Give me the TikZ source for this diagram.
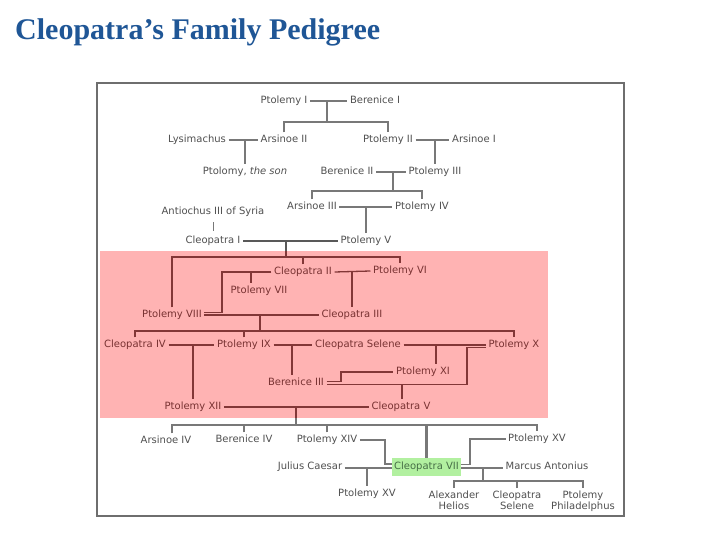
\documentclass[tikz,border=0pt]{standalone}
\usepackage{fontspec}
\setmainfont{Liberation Serif}
\newfontfamily\dv{DejaVu Sans}
\definecolor{titleblue}{RGB}{31,86,150}
\definecolor{framegray}{RGB}{110,110,110}
\definecolor{pinkfill}{RGB}{255,179,179}
\definecolor{txtgray}{RGB}{80,80,80}
\definecolor{lngray}{RGB}{120,120,120}
\definecolor{txtred}{RGB}{120,50,50}
\definecolor{lnred}{RGB}{130,55,55}
\definecolor{greenfill}{RGB}{178,240,160}
\definecolor{txtgreen}{RGB}{70,110,70}
\begin{document}
\begin{tikzpicture}[x=1pt,y=-1pt,
  nd0/.style={font=\dv\fontsize{10}{11}\selectfont, text=txtgray, inner sep=2.5pt, align=center},
  nd/.style={nd0, text height=7.5pt, text depth=2.3pt},
  pk/.style={nd, text=txtred},
  ln/.style={draw=lngray, line width=1.3pt},
  lr/.style={draw=lnred, line width=1.3pt}]
\useasboundingbox (0,0) rectangle (720,540);
\fill[white] (0,0) rectangle (720,540);
\node[anchor=base west, inner sep=0, text=titleblue, font=\fontsize{30}{35}\selectfont\bfseries] (title) at (15,39.5) {Cleopatra’s Family Pedigree};
\fill[pinkfill] (100,251) rectangle (548,418);
\draw[framegray, line width=1.6pt] (97,83) rectangle (624,516);

% ---------- top generations ----------
\node[nd] (p1) at (284,101) {Ptolemy I};
\node[nd] (b1) at (375,101) {Berenice I};
\node[nd] (lys) at (197,140) {Lysimachus};
\node[nd] (a2) at (284,140) {Arsinoe II};
\node[nd] (p2) at (388,140) {Ptolemy II};
\node[nd] (a1) at (474,140) {Arsinoe I};
\node[nd] (pson) at (245,172) {Ptolomy, \textit{the son}};
\node[nd] (b2) at (347,172) {Berenice II};
\node[nd] (p3) at (435,172) {Ptolemy III};
\node[nd] (a3) at (312,207) {Arsinoe III};
\node[nd] (p4) at (422,207) {Ptolemy IV};
\node[nd] (ant) at (213,212) {Antiochus III of Syria};
\node[nd] (c1) at (213,241) {Cleopatra I};
\node[nd] (p5) at (366,241) {Ptolemy V};

\coordinate (m1) at (327,101); \coordinate (s1) at (327,122);
\draw[ln] (p1.east) -- (b1.west);
\draw[ln] (m1) -- (s1);
\draw[ln] (a2.north) |- (s1) -| (p2.north);
\draw[ln] (lys.east) -- (a2.west);
\coordinate (m2) at (245,140);
\draw[ln] (m2) -- (pson.north);
\draw[ln] (p2.east) -- (a1.west);
\coordinate (m3) at (435,140);
\draw[ln] (m3) -- (p3.north);
\draw[ln] (b2.east) -- (p3.west);
\coordinate (m4) at (393,172); \coordinate (s4) at (393,191);
\draw[ln] (m4) -- (s4);
\draw[ln] (a3.north) |- (s4) -| (p4.north);
\draw[ln] (a3.east) -- (p4.west);
\coordinate (m5) at (366,207);
\draw[ln] (m5) -- (p5.north);
\draw[ln, line width=0.9pt, shorten <=2.5pt, shorten >=2.5pt] (ant.south) -- (c1.north);
\draw[ln, draw=black!65] (c1.east) -- (p5.west);
\coordinate (m6) at (286,241); \coordinate (e6) at (286,251); \coordinate (s6) at (286,257);
\draw[ln, draw=black!65] (m6) -- (e6);
\draw[lr] (e6) -- (s6);

% ---------- pink generations ----------
\node[pk] (c2) at (303,272) {Cleopatra II};
\node[pk] (p6) at (400,271) {Ptolemy VI};
\node[pk] (p7) at (259,291) {Ptolemy VII};
\node[pk] (p8) at (172,315) {Ptolemy VIII};
\node[pk] (c3) at (352,315) {Cleopatra III};
\node[pk] (c4) at (135,345) {Cleopatra IV};
\node[pk] (p9) at (244,345) {Ptolemy IX};
\node[pk] (cs) at (358,345) {Cleopatra Selene};
\node[pk] (p10) at (514,345) {Ptolemy X};
\node[pk] (p11) at (423,372) {Ptolemy XI};
\node[pk] (b3) at (296,383) {Berenice III};
\node[pk] (p12) at (193,407) {Ptolemy XII};
\node[pk] (c5) at (401,407) {Cleopatra V};

\draw[lr] (p8.north) |- (s6) -| (p6.north);
\draw[lr] (c2.north) -- (c2.north |- s6);
\draw[lr] (c2.east) -- (p6.west);
\coordinate (m7) at (352,272);
\draw[lr] (m7) -- (c3.north);
\coordinate (k8) at (222,312.5);
\draw[lr] (c2.west) -| (k8) -- (k8 -| p8.east);
\coordinate (t7) at (251,272);
\draw[lr] (t7) -- (t7 |- p7.north);
\draw[lr] (p8.east) -- (c3.west);
\coordinate (m8) at (260,315); \coordinate (s8) at (260,331);
\draw[lr] (m8) -- (s8);
\draw[lr] (c4.north) |- (s8) -| (p10.north);
\draw[lr] (p9.north) -- (p9.north |- s8);
\draw[lr] (c4.east) -- (p9.west);
\coordinate (m9) at (193,345);
\draw[lr] (m9) -- (p12.north);
\draw[lr] (p9.east) -- (cs.west);
\coordinate (m10) at (292,345);
\draw[lr] (m10) -- (m10 |- b3.north);
\draw[lr] (cs.east) -- (p10.west);
\coordinate (m11) at (436,345);
\draw[lr] (m11) -- (m11 |- p11.north);
\coordinate (k10) at (467,384.5);
\draw[lr] ([yshift=-2.5pt]p10.west) -| (k10) -- (k10 -| b3.east);
\coordinate (k11) at (341,372);
\draw[lr] ([yshift=1.5pt]b3.east) -| (k11) -- (p11.west);
\coordinate (m12) at (402,384.5);
\draw[lr] (m12) -- (m12 |- c5.north);
\draw[lr] (p12.east) -- (c5.west);
\coordinate (m13) at (296,407); \coordinate (e13) at (296,418); \coordinate (s13) at (296,425);
\draw[lr] (m13) -- (e13);
\draw[ln] (e13) -- (s13);

% ---------- bottom generations ----------
\node[nd] (a4) at (166,441) {Arsinoe IV};
\node[nd] (b4) at (244,440) {Berenice IV};
\node[nd] (p14) at (327,440) {Ptolemy XIV};
\node[nd] (p15b) at (537,439) {Ptolemy XV};
\node[nd] (jc) at (310,467) {Julius Caesar};
\node[nd, fill=greenfill, text=txtgreen, minimum width=69pt, minimum height=18pt, inner sep=0pt] (c7) at (426.5,467) {Cleopatra VII};
\node[nd] (ma) at (547,467) {Marcus Antonius};
\node[nd] (p15a) at (367,494) {Ptolemy XV};
\node[nd0, anchor=north] (ah) at (454,488) {Alexander\\Helios};
\node[nd0, anchor=north] (cs2) at (517,488) {Cleopatra\\Selene};
\node[nd0, anchor=north] (pp) at (583,488) {Ptolemy\\Philadelphus};

\coordinate (t4) at (172,425);
\draw[ln] (t4 |- a4.north) |- (s13) -| (p15b.north);
\draw[ln] (b4.north) -- (b4.north |- s13);
\draw[ln] (p14.north) -- (p14.north |- s13);
\draw[ln, line width=2.2pt] (c7.north) -- (c7.north |- s13);
\coordinate (k14) at (385,464);
\draw[ln] (p14.east) -| (k14) -- (k14 -| c7.west);
\draw[ln] ([yshift=-1pt]jc.east) -- ([yshift=-1pt]c7.west);
\coordinate (m15) at (367,468);
\draw[ln] (m15) -- (p15a.north);
\coordinate (k15) at (470,464.5);
\draw[ln] (p15b.west) -| (k15) -- (k15 -| c7.east);
\draw[ln] ([yshift=-1pt]c7.east) -- ([yshift=-1pt]ma.west);
\coordinate (m16) at (483,468); \coordinate (s16) at (483,481);
\draw[ln] (m16) -- (s16);
\draw[ln] (ah.north) |- (s16) -| (pp.north);
\draw[ln] (cs2.north) -- (cs2.north |- s16);
\end{tikzpicture}
\end{document}
